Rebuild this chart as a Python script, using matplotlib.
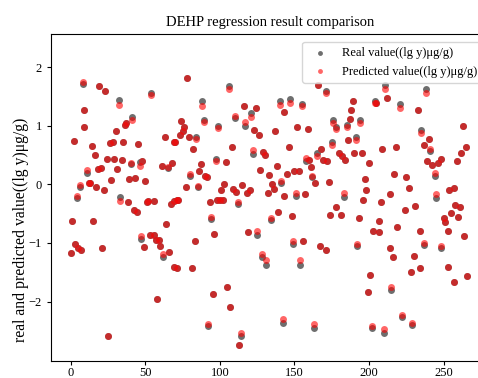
import matplotlib
matplotlib.use("Agg")
import matplotlib.pyplot as plt
import numpy as np

plt.rcParams['font.family'] = ['Liberation Serif', 'DejaVu Serif']

title = "DEHP regression result comparison"
ylabel = "real and predicted value((lg y)μg/g)"
label_real = "Real value((lg y)μg/g)"
label_pred = "Predicted value((lg y)μg/g)"

sample_index = [
    8, 19, 23, 32, 9, 9, 30, 2, 14, 26, 28, 16, 24, 29, 34, 11, 18, 20, 31, 27,
    12, 13, 6, 17, 22, 4, 33, 1, 15, 3, 5, 7, 0, 21, 25,
    54, 41, 36, 37, 63, 69, 35, 45, 40, 46, 48, 61, 65, 68, 39, 43, 50, 38, 51,
    52, 56, 67, 69, 42, 44, 64, 47, 53, 56, 57, 59, 60, 49, 62, 66, 69, 58,
    78, 106, 88, 74, 76, 75, 73, 79, 84, 89, 99, 70, 82, 97, 104, 87, 80, 86,
    90, 91, 77, 85, 103, 101, 71, 72, 93, 98, 100, 102, 94, 96, 83, 71, 81,
    105, 95, 107, 92, 113, 114,
    140, 116, 124, 110, 121, 117, 143, 123, 126, 137, 108, 122, 129, 130, 138,
    127, 133, 141, 135, 109, 111, 115, 118, 120, 132, 136, 143, 112, 139, 134,
    119, 125, 128, 131, 142,
    166, 171, 147, 155, 152, 159, 146, 176, 178, 188, 187, 185, 189, 186, 191,
    175, 168, 165, 158, 160, 180, 182, 184, 169, 172, 190, 161, 162, 150, 153,
    145, 173, 164, 151, 157, 183, 178, 174, 181, 148, 193, 156, 149, 167, 171,
    154, 192, 163,
    211, 212, 238, 204, 205, 221, 233, 194, 263, 235, 240, 237, 265, 209, 218,
    241, 262, 195, 239, 242, 244, 246, 248, 200, 259, 217, 197, 198, 225, 227,
    245, 214, 231, 208, 196, 254, 257, 224, 258, 261, 255, 260, 207, 203, 207,
    250, 251, 253, 219, 234, 264, 237, 248, 214, 216, 230, 234, 228, 253, 201,
    257, 266, 215, 199, 222, 229, 202, 210,
]

real_values = [
    1.71, 1.67, 1.59, 1.44, 1.27, 0.98, 0.91, 0.74, 0.65, 0.71, 0.73, 0.50, 0.43, 0.43, 0.42, 0.20, 0.26, 0.27, 0.26, 0.07,
    0.02, 0.03, -0.05, -0.04, -0.09, -0.23, -0.21, -0.63, -0.63, -1.02, -1.08, -1.12, -1.18, -1.08, -2.59,
    1.56, 1.15, 1.01, 1.04, 0.80, 0.73, 0.72, 0.69, 0.34, 0.38, 0.40, 0.32, 0.28, 0.37, 0.09, 0.11, 0.06, -0.30, -0.31,
    -0.28, -0.29, -0.34, -0.28, -0.43, -0.48, -0.67, -0.93, -0.87, -0.86, -0.95, -0.95, -1.05, -1.07, -1.24, -1.16, -1.41, -1.95,
    1.81, 1.67, 1.42, 1.08, 0.97, 0.91, 0.84, 0.81, 0.80, 1.10, 1.00, 0.72, 0.61, 0.44, 0.38, 0.34, 0.14, 0.22,
    0.14, 0.13, -0.05, -0.05, 0.00, -0.10, -0.26, -0.26, -0.31, -0.27, -0.27, -0.27, -0.59, -0.84, -0.96, -1.42, -1.43,
    -1.75, -1.87, -2.09, -2.42, -2.74, -2.59,
    1.43, 1.34, 1.31, 1.13, 1.22, 1.00, 1.23, 0.93, 0.85, 0.91, 0.64, 0.51, 0.55, 0.50, 0.31,
    0.24, 0.16, 0.03, 0.00, -0.08, -0.13, -0.02, -0.14, -0.10, -0.14, -0.08, -0.20, -0.34, -0.47, -0.61,
    -0.81, -0.87, -1.24, -1.38, -2.36,
    1.69, 1.59, 1.45, 1.37, 0.98, 0.94, 0.63, 1.10, 0.98, 1.26, 1.11, 1.02, 1.43, 0.76, 0.80,
    0.73, 0.61, 0.54, 0.40, 0.41, 0.53, 0.48, 0.41, 0.41, 0.40, 0.53, 0.29, 0.12, 0.23, 0.23,
    0.18, 0.04, 0.02, -0.20, -0.17, -0.21, -0.38, -0.52, -0.52, -0.54, -0.58, -0.96, -1.02, -1.06, -1.12,
    -1.37, -1.06, -2.46,
    1.69, 1.47, 1.62, 1.42, 1.38, 1.37, 1.27, 1.09, 1.00, 0.93, 0.77, 0.67, 0.63, 0.60, 0.63,
    0.57, 0.53, 0.54, 0.39, 0.33, 0.14, 0.36, 0.43, 0.36, 0.39, 0.17, 0.09, -0.10, 0.13, -0.07,
    -0.23, -0.17, -0.37, -0.31, -0.26, -0.09, -0.07, -0.44, -0.35, -0.38, -0.49, -0.56, -0.62, -0.79, -0.81,
    -0.58, -0.65, -0.79, -0.72, -0.79, -0.88, -1.04, -1.09, -1.09, -1.24, -1.22, -1.42, -1.50, -1.41, -1.54,
    -1.67, -1.56, -1.80, -1.83, -2.27, -2.40, -2.46, -2.53,
]

predicted_values = [
    1.74, 1.67, 1.59, 1.35, 1.27, 0.98, 0.91, 0.74, 0.65, 0.71, 0.73, 0.50, 0.43, 0.43, 0.42, 0.24, 0.26, 0.27, 0.26, 0.07,
    0.02, 0.03, -0.02, -0.04, -0.09, -0.20, -0.29, -0.63, -0.63, -1.02, -1.08, -1.12, -1.18, -1.08, -2.59,
    1.52, 1.10, 1.01, 1.04, 0.80, 0.73, 0.72, 0.69, 0.37, 0.31, 0.40, 0.32, 0.29, 0.37, 0.09, 0.11, 0.06, -0.30, -0.31,
    -0.28, -0.29, -0.34, -0.28, -0.43, -0.48, -0.67, -0.88, -0.87, -0.86, -0.95, -0.95, -1.05, -1.07, -1.19, -1.16, -1.41, -1.95,
    1.81, 1.63, 1.34, 1.08, 0.97, 0.91, 0.84, 0.81, 0.77, 1.07, 0.96, 0.72, 0.61, 0.40, 0.38, 0.34, 0.17, 0.22,
    0.14, 0.13, -0.05, -0.03, 0.00, -0.10, -0.26, -0.26, -0.31, -0.27, -0.27, -0.27, -0.56, -0.84, -0.96, -1.42, -1.43,
    -1.75, -1.87, -2.09, -2.38, -2.74, -2.54,
    1.35, 1.34, 1.31, 1.17, 1.15, 1.06, 1.23, 0.93, 0.85, 0.91, 0.64, 0.59, 0.55, 0.50, 0.31,
    0.24, 0.16, 0.06, 0.00, -0.08, -0.13, -0.02, -0.14, -0.10, -0.14, -0.08, -0.20, -0.30, -0.47, -0.57,
    -0.81, -0.79, -1.19, -1.30, -2.30,
    1.69, 1.55, 1.38, 1.34, 0.98, 0.94, 0.63, 1.05, 0.94, 1.26, 1.11, 0.98, 1.43, 0.76, 0.76,
    0.67, 0.61, 0.48, 0.45, 0.41, 0.53, 0.48, 0.41, 0.41, 0.40, 0.53, 0.29, 0.15, 0.23, 0.23,
    0.18, 0.04, 0.02, -0.15, -0.17, -0.15, -0.38, -0.52, -0.52, -0.54, -0.58, -0.96, -0.96, -1.06, -1.12,
    -1.29, -1.01, -2.38,
    1.63, 1.47, 1.56, 1.38, 1.38, 1.31, 1.27, 1.04, 1.00, 0.88, 0.77, 0.67, 0.63, 0.60, 0.63,
    0.60, 0.53, 0.54, 0.39, 0.33, 0.19, 0.36, 0.43, 0.36, 0.39, 0.17, 0.09, -0.10, 0.13, -0.07,
    -0.17, -0.17, -0.37, -0.31, -0.26, -0.09, -0.07, -0.44, -0.35, -0.38, -0.49, -0.56, -0.62, -0.79, -0.81,
    -0.58, -0.65, -0.79, -0.72, -0.79, -0.88, -1.00, -1.05, -1.09, -1.24, -1.22, -1.42, -1.50, -1.41, -1.54,
    -1.67, -1.56, -1.76, -1.83, -2.23, -2.36, -2.41, -2.47,
]

W, H = 478, 378
fig = plt.figure(figsize=(W / 100, H / 100), dpi=100)
ax = fig.add_axes([51 / W, (H - 360.7) / H, 439 / W, 326.4 / H])

ax.scatter(sample_index, real_values, s=25, color="#6e6e6e", alpha=1.0,
           linewidths=0, label=label_real, zorder=2)
ax.scatter(sample_index, predicted_values, s=25, color="red", alpha=0.6,
           linewidths=0, label=label_pred, zorder=3)

ax.set_xlim(-13.4, 281.2)
ax.set_ylim(-3.01, 2.56)
ax.set_xticks([0, 50, 100, 150, 200, 250])
ax.set_yticks([-2, -1, 0, 1, 2])
ax.tick_params(labelsize=9, length=3)
ax.tick_params(axis='x', pad=1.5)
ax.set_title(title, fontsize=10.5)
ax.set_ylabel(ylabel, fontsize=11.3)
ax.yaxis.set_label_coords(-0.05, 0.40)
ax.legend(loc="upper right", fontsize=9, markerscale=0.7, labelspacing=0.55,
          borderaxespad=0.6)

fig.savefig("out.png", dpi=100)
